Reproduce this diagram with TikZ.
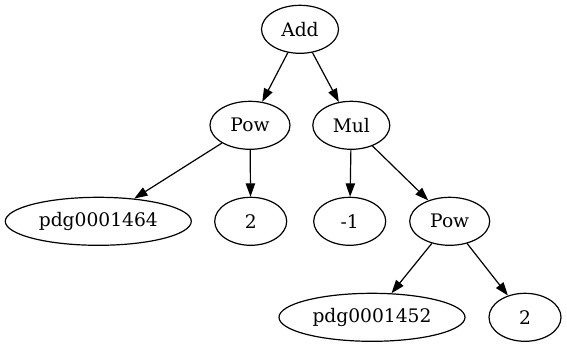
\documentclass[tikz,border=0pt]{standalone}
\usepackage{fontspec}
\setmainfont{DejaVu Serif}
\usetikzlibrary{shapes.geometric,arrows.meta}
\begin{document}
\begin{tikzpicture}[x=0.75pt,y=-0.75pt,
  nd/.style={ellipse,draw,line width=0.9pt,inner sep=0pt,minimum height=36pt,font=\fontsize{14pt}{16pt}\selectfont},
  edge/.style={draw,line width=0.9pt,-{Triangle[length=10pt,width=7pt]}}]
\useasboundingbox (0,0) rectangle (567,347);
\node[nd,minimum width=57.75pt] (add) at (300,29.3) {Add};
\node[nd,minimum width=60pt] (pow1) at (250,125.3) {Pow};
\node[nd,minimum width=57.75pt] (mul) at (351.3,125.3) {Mul};
\node[nd,minimum width=139.5pt] (p64) at (98.3,221.3) {pdg0001464};
\node[nd,minimum width=54pt] (two1) at (250.7,221.3) {2};
\node[nd,minimum width=54pt] (m1) at (349.7,221.3) {-1};
\node[nd,minimum width=60pt] (pow2) at (449.7,221.3) {Pow};
\node[nd,minimum width=139.5pt] (p52) at (372,317.3) {pdg0001452};
\node[nd,minimum width=54pt] (two2) at (525,317.3) {2};
\draw[edge] (add) -- (pow1);
\draw[edge] (add) -- (mul);
\draw[edge] (pow1) -- (p64);
\draw[edge] (pow1) -- (two1);
\draw[edge] (mul) -- (m1);
\draw[edge] (mul) -- (pow2);
\draw[edge] (pow2) -- (p52);
\draw[edge] (pow2) -- (two2);
\end{tikzpicture}
\end{document}
